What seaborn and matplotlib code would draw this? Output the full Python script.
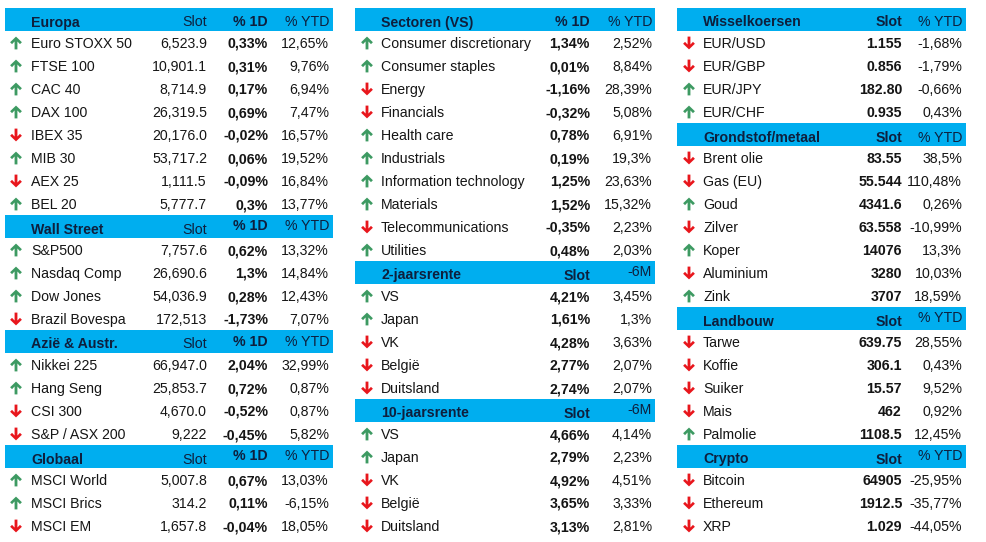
import pandas as pd
import matplotlib.pyplot as plt
import matplotlib.markers as mmarkers
from matplotlib.path import Path
from matplotlib.patches import Rectangle
import seaborn as sns

# ---- data: linker kolom ----
europa_names = ["Euro STOXX 50", "FTSE 100", "CAC 40", "DAX 100", "IBEX 35", "MIB 30", "AEX 25", "BEL 20"]
europa_slot = ["6,523.9", "10,901.1", "8,714.9", "26,319.5", "20,176.0", "53,717.2", "1,111.5", "5,777.7"]
europa_1d = ["0,33%", "0,31%", "0,17%", "0,69%", "-0,02%", "0,06%", "-0,09%", "0,3%"]
europa_ytd = ["12,65%", "9,76%", "6,94%", "7,47%", "16,57%", "19,52%", "16,84%", "13,77%"]
europa_dir = ["up", "up", "up", "up", "down", "up", "down", "up"]

ws_names = ["S&P500", "Nasdaq Comp", "Dow Jones", "Brazil Bovespa"]
ws_slot = ["7,757.6", "26,690.6", "54,036.9", "172,513"]
ws_1d = ["0,62%", "1,3%", "0,28%", "-1,73%"]
ws_ytd = ["13,32%", "14,84%", "12,43%", "7,07%"]
ws_dir = ["up", "up", "up", "down"]

azie_names = ["Nikkei 225", "Hang Seng", "CSI 300", "S&P / ASX 200"]
azie_slot = ["66,947.0", "25,853.7", "4,670.0", "9,222"]
azie_1d = ["2,04%", "0,72%", "-0,52%", "-0,45%"]
azie_ytd = ["32,99%", "0,87%", "0,87%", "5,82%"]
azie_dir = ["up", "up", "down", "down"]

glob_names = ["MSCI World", "MSCI Brics", "MSCI EM"]
glob_slot = ["5,007.8", "314.2", "1,657.8"]
glob_1d = ["0,67%", "0,11%", "-0,04%"]
glob_ytd = ["13,03%", "-6,15%", "18,05%"]
glob_dir = ["up", "up", "down"]

# ---- data: middelste kolom ----
sect_names = ["Consumer discretionary", "Consumer staples", "Energy", "Financials", "Health care",
              "Industrials", "Information technology", "Materials", "Telecommunications", "Utilities"]
sect_1d = ["1,34%", "0,01%", "-1,16%", "-0,32%", "0,78%", "0,19%", "1,25%", "1,52%", "-0,35%", "0,48%"]
sect_ytd = ["2,52%", "8,84%", "28,39%", "5,08%", "6,91%", "19,3%", "23,63%", "15,32%", "2,23%", "2,03%"]
sect_dir = ["up", "up", "down", "down", "up", "up", "up", "up", "down", "up"]

rente_names = ["VS", "Japan", "VK", "België", "Duitsland"]
rente2_slot = ["4,21%", "1,61%", "4,28%", "2,77%", "2,74%"]
rente2_6m = ["3,45%", "1,3%", "3,63%", "2,07%", "2,07%"]
rente2_dir = ["up", "up", "down", "down", "down"]
rente10_slot = ["4,66%", "2,79%", "4,92%", "3,65%", "3,13%"]
rente10_6m = ["4,14%", "2,23%", "4,51%", "3,33%", "2,81%"]
rente10_dir = ["up", "up", "down", "down", "down"]

# ---- data: rechter kolom ----
fx_names = ["EUR/USD", "EUR/GBP", "EUR/JPY", "EUR/CHF"]
fx_slot = ["1.155", "0.856", "182.80", "0.935"]
fx_ytd = ["-1,68%", "-1,79%", "-0,66%", "0,43%"]
fx_dir = ["down", "down", "up", "up"]

met_names = ["Brent olie", "Gas (EU)", "Goud", "Zilver", "Koper", "Aluminium", "Zink"]
met_slot = ["83.55", "55.544", "4341.6", "63.558", "14076", "3280", "3707"]
met_ytd = ["38,5%", "110,48%", "0,26%", "-10,99%", "13,3%", "10,03%", "18,59%"]
met_dir = ["down", "down", "up", "down", "up", "down", "up"]

land_names = ["Tarwe", "Koffie", "Suiker", "Mais", "Palmolie"]
land_slot = ["639.75", "306.1", "15.57", "462", "1108.5"]
land_ytd = ["28,55%", "0,43%", "9,52%", "0,92%", "12,45%"]
land_dir = ["down", "down", "down", "down", "up"]

crypto_names = ["Bitcoin", "Ethereum", "XRP"]
crypto_slot = ["64905", "1912.5", "1.029"]
crypto_ytd = ["-25,95%", "-35,77%", "-44,05%"]
crypto_dir = ["down", "down", "down"]

# secties: (titel, kolomkoppen, verhoging kop per kolom, rijnamen, kolommen, richting)
left_sections = [
    ("Europa", ["Slot", "% 1D", "% YTD"], [0, 0, 0], europa_names, [europa_slot, europa_1d, europa_ytd], europa_dir),
    ("Wall Street", ["Slot", "% 1D", "% YTD"], [0, 3, 3], ws_names, [ws_slot, ws_1d, ws_ytd], ws_dir),
    ("Azië & Austr.", ["Slot", "% 1D", "% YTD"], [0, 3, 3], azie_names, [azie_slot, azie_1d, azie_ytd], azie_dir),
    ("Globaal", ["Slot", "% 1D", "% YTD"], [0, 3, 3], glob_names, [glob_slot, glob_1d, glob_ytd], glob_dir),
]
mid_sections = [
    ("Sectoren (VS)", ["% 1D", "% YTD"], [0, 0], sect_names, [sect_1d, sect_ytd], sect_dir),
    ("2-jaarsrente", ["Slot", "-6M"], [0, 4], rente_names, [rente2_slot, rente2_6m], rente2_dir),
    ("10-jaarsrente", ["Slot", "-6M"], [0, 4], rente_names, [rente10_slot, rente10_6m], rente10_dir),
]
right_sections = [
    ("Wisselkoersen", ["Slot", "% YTD"], [0, 0], fx_names, [fx_slot, fx_ytd], fx_dir),
    ("Grondstof/metaal", ["Slot", "% YTD"], [0, 0], met_names, [met_slot, met_ytd], met_dir),
    ("Landbouw", ["Slot", "% YTD"], [0, 3], land_names, [land_slot, land_ytd], land_dir),
    ("Crypto", ["Slot", "% YTD"], [0, 3], crypto_names, [crypto_slot, crypto_ytd], crypto_dir),
]

HEADER_BLUE = "#00AEEF"
HEADER_TXT = "#0e1f3d"
BODY_TXT = "#151515"
GREEN = "#3d9a62"
RED = "#e8161c"
ROW_H = 23
TOP = 8
FS = 10.2

# pijl-markers (chevron-kop met smalle steel)
up_verts = [(0, 0.5), (0.46, 0.06), (0.31, -0.09), (0.11, 0.12), (0.11, -0.5),
            (-0.11, -0.5), (-0.11, 0.12), (-0.31, -0.09), (-0.46, 0.06), (0, 0.5)]
up_path = Path(up_verts, closed=True)
down_path = Path([(x, -y) for x, y in up_verts], closed=True)
arrow_markers = {"up": mmarkers.MarkerStyle(up_path), "down": mmarkers.MarkerStyle(down_path)}

sns.set_theme(style="white")
plt.rcParams["font.family"] = ["Liberation Sans", "DejaVu Sans"]

fig = plt.figure(figsize=(9.86, 5.42), dpi=100)
ax = fig.add_axes([0, 0, 1, 1])
ax.set_xlim(0, 986)
ax.set_ylim(542, 0)
ax.axis("off")

arrow_rows = []


def draw_panel(sections, box_x0, box_x1, x_arrow, x_name, col_right, col_bold):
    row = 0
    for title, heads, raise_px, names, cols, dirs in sections:
        y0 = TOP + row * ROW_H
        ax.add_patch(Rectangle((box_x0, y0), box_x1 - box_x0, ROW_H, color=HEADER_BLUE, lw=0, zorder=1))
        base = y0 + ROW_H / 2 + 7
        ax.text(x_name, base, title, fontsize=FS, fontweight="bold", color=HEADER_TXT,
                va="baseline", ha="left", zorder=3)
        offs = len(col_right) - len(heads)
        for j, h in enumerate(heads):
            ax.text(col_right[offs + j], base - raise_px[j], h, fontsize=FS,
                    fontweight="bold" if col_bold[offs + j] else "normal",
                    color=HEADER_TXT, va="baseline", ha="right", zorder=3)
        row += 1
        for i, name in enumerate(names):
            yc = TOP + row * ROW_H + ROW_H / 2
            ax.text(x_name, yc + 5.5, name, fontsize=FS, color=BODY_TXT, va="baseline", ha="left")
            offs = len(col_right) - len(cols)
            for j, col in enumerate(cols):
                ax.text(col_right[offs + j], yc + 5.5, col[i], fontsize=FS,
                        fontweight="bold" if col_bold[offs + j] else "normal",
                        color=BODY_TXT, va="baseline", ha="right")
            arrow_rows.append({"x": x_arrow, "y": yc + 0.5, "dir": dirs[i]})
            row += 1


draw_panel(left_sections, 5, 333, 16, 31, [207, 268, 329], [False, True, False])
draw_panel(mid_sections, 355, 655, 367, 381, [590, 652], [True, False])
draw_panel(right_sections, 677, 966, 689, 703, [902, 962], [True, False])

arrows = pd.DataFrame(arrow_rows)
sns.scatterplot(data=arrows, x="x", y="y", hue="dir", style="dir",
                palette={"up": GREEN, "down": RED}, markers=arrow_markers,
                s=85, linewidth=0, legend=False, ax=ax, zorder=4)
ax.set_xlim(0, 986)
ax.set_ylim(542, 0)
ax.axis("off")

fig.savefig("out.png", dpi=100)
plt.close(fig)
